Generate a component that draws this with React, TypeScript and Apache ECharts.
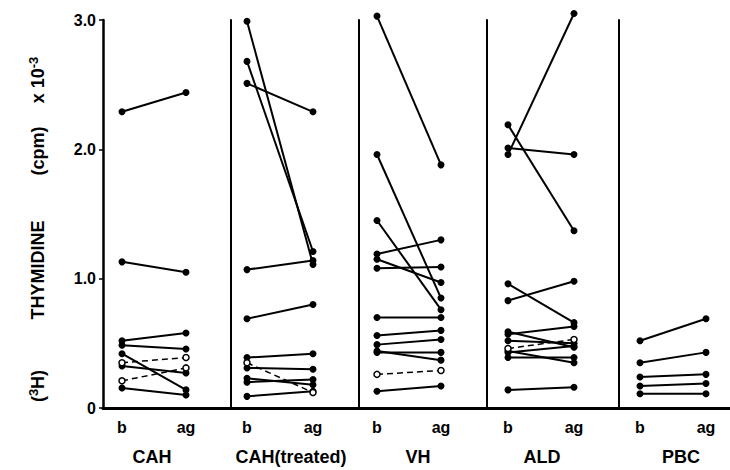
import React, { useEffect, useRef } from "react";
import * as echarts from "echarts";

// ---- data ----
const groups = ["CAH", "CAH(treated)", "VH", "ALD", "PBC"];
const xTickLabels = ["b", "ag"];
const yTickValues = [0, 1, 2, 3];

// filled symbols (solid lines) : basal -> after ag
const cahBasal = [2.29, 1.13, 0.52, 0.485, 0.42, 0.325, 0.155];
const cahAg = [2.44, 1.05, 0.58, 0.456, 0.14, 0.27, 0.1];
const cahOpenBasal = [0.35, 0.21];
const cahOpenAg = [0.39, 0.31];

const cahTBasal = [2.99, 2.68, 2.51, 1.07, 0.69, 0.39, 0.31, 0.23, 0.2, 0.09];
const cahTAg = [1.11, 1.21, 2.29, 1.14, 0.8, 0.42, 0.3, 0.18, 0.22, 0.13];
const cahTOpenBasal = [0.35];
const cahTOpenAg = [0.12];

const vhBasal = [3.03, 1.96, 1.45, 1.19, 1.15, 1.08, 0.7, 0.56, 0.49, 0.44, 0.43, 0.13];
const vhAg = [1.88, 0.85, 0.76, 1.3, 0.97, 1.09, 0.7, 0.6, 0.53, 0.37, 0.43, 0.17];
const vhOpenBasal = [0.26];
const vhOpenAg = [0.29];

const aldBasal = [1.96, 2.01, 2.19, 0.96, 0.83, 0.59, 0.57, 0.52, 0.44, 0.43, 0.39, 0.14];
const aldAg = [3.05, 1.96, 1.37, 0.66, 0.98, 0.47, 0.63, 0.5, 0.35, 0.48, 0.39, 0.16];
const aldOpenBasal = [0.46];
const aldOpenAg = [0.53];

const pbcBasal = [0.52, 0.35, 0.24, 0.17, 0.11];
const pbcAg = [0.69, 0.43, 0.26, 0.19, 0.11];
const pbcOpenBasal: number[] = [];
const pbcOpenAg: number[] = [];

const filledBasal = [cahBasal, cahTBasal, vhBasal, aldBasal, pbcBasal];
const filledAg = [cahAg, cahTAg, vhAg, aldAg, pbcAg];
const openBasal = [cahOpenBasal, cahTOpenBasal, vhOpenBasal, aldOpenBasal, pbcOpenBasal];
const openAg = [cahOpenAg, cahTOpenAg, vhOpenAg, aldOpenAg, pbcOpenAg];

// ---- layout ----
const panelLeft = [103, 231, 359, 487, 619];
const panelRight = [231, 359, 487, 619, 730];
const bPix = [122, 247, 377, 508, 640];
const agPix = [186, 313, 441, 574, 706];
const groupLabelX = [152, 291, 418, 542, 681];
const FONT = "Liberation Sans";

export default function App() {
  const ref = useRef<HTMLDivElement>(null);
  useEffect(() => {
    if (!ref.current) return;
    const chart = echarts.init(ref.current, null, { renderer: "svg" });
    const grid: any[] = [];
    const xAxis: any[] = [];
    const yAxis: any[] = [];
    const series: any[] = [];
    groups.forEach((g, i) => {
      const d = agPix[i] - bPix[i];
      grid.push({ left: panelLeft[i], top: 20, width: panelRight[i] - panelLeft[i], height: 388 });
      xAxis.push({
        gridIndex: i,
        type: "value",
        min: -(bPix[i] - panelLeft[i]) / d,
        max: (panelRight[i] - bPix[i]) / d,
        axisLine: { show: true, onZero: false, lineStyle: { color: "#000", width: 3 } },
        axisTick: { show: false },
        splitLine: { show: false },
        axisLabel: {
          customValues: [0, 1],
          formatter: (v: number) => (v === 0 ? xTickLabels[0] : xTickLabels[1]),
          color: "#000",
          fontSize: 16,
          fontWeight: "bold",
          fontFamily: FONT,
          margin: 11,
        },
      });
      yAxis.push({
        gridIndex: i,
        type: "value",
        min: 0,
        max: 3,
        interval: 1,
        axisLine: { show: true, onZero: false, lineStyle: { color: "#000", width: i === 0 ? 2.5 : 2 } },
        axisTick: { show: i === 0, length: 4, lineStyle: { color: "#000", width: 1.5 } },
        splitLine: { show: false },
        axisLabel: {
          show: i === 0,
          customValues: yTickValues,
          formatter: (v: number) => (v === 0 ? "0" : v.toFixed(1)),
          color: "#000",
          fontSize: 16,
          fontWeight: "bold",
          fontFamily: FONT,
          margin: 7,
        },
      });
      filledBasal[i].forEach((b, k) => {
        series.push({
          type: "line",
          xAxisIndex: i,
          yAxisIndex: i,
          clip: false,
          data: [
            [0, b],
            [1, filledAg[i][k]],
          ],
          symbol: "circle",
          symbolSize: 7,
          itemStyle: { color: "#000" },
          lineStyle: { color: "#000", width: 2 },
          z: 3,
        });
      });
      openBasal[i].forEach((b, k) => {
        series.push({
          type: "line",
          xAxisIndex: i,
          yAxisIndex: i,
          clip: false,
          data: [
            [0, b],
            [1, openAg[i][k]],
          ],
          symbol: "circle",
          symbolSize: 6,
          itemStyle: { color: "#fff", borderColor: "#000", borderWidth: 1.5 },
          lineStyle: { color: "#000", width: 1.5, type: [6, 4] },
          z: 4,
        });
      });
    });

    const titleStyle = { fill: "#000", fontSize: 18, fontWeight: "bold", fontFamily: FONT, align: "center", verticalAlign: "middle" };
    const rich = {
      n: { fontSize: 18, fontWeight: "bold", fontFamily: FONT, fill: "#000" },
      s: { fontSize: 13, fontWeight: "bold", fontFamily: FONT, fill: "#000", padding: [0, 0, 9, 0] },
    };
    const graphic: any[] = [
      ...groups.map((g, i) => ({
        type: "text",
        x: groupLabelX[i],
        y: 457,
        style: { ...titleStyle, text: g },
      })),
      { type: "text", x: 38, y: 386, rotation: Math.PI / 2, style: { ...titleStyle, text: "{n|(}{s|3}{n|H)}", rich } },
      { type: "text", x: 38, y: 270, rotation: Math.PI / 2, style: { ...titleStyle, text: "THYMIDINE" } },
      { type: "text", x: 38, y: 151, rotation: Math.PI / 2, style: { ...titleStyle, text: "(cpm)" } },
      { type: "text", x: 38, y: 80, rotation: Math.PI / 2, style: { ...titleStyle, text: "{n|x 10}{s|-3}", rich } },
    ];

    chart.setOption({
      animation: false,
      backgroundColor: "#fff",
      grid,
      xAxis,
      yAxis,
      series,
      graphic,
    });
    return () => chart.dispose();
  }, []);
  return <div ref={ref} style={{ width: 730, height: 470, position: "fixed", left: 0, top: 0 }} />;
}
